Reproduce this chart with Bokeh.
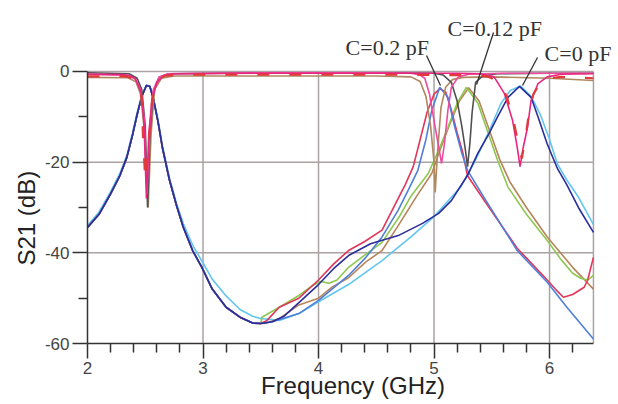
from bokeh.plotting import figure
from bokeh.models import FixedTicker, Label, Range1d, Title, CustomJSTickFormatter
from bokeh.embed import file_html
from bokeh.resources import INLINE

# ---------------- data ----------------
x_major = [2, 3, 4, 5, 6]
x_minor = [2.2, 2.4, 2.6, 2.8, 3.2, 3.4, 3.6, 3.8, 4.2, 4.4, 4.6, 4.8,
           5.2, 5.4, 5.6, 5.8, 6.2]
x_end = 6.38
y_major = [0, -20, -40, -60]
y_minor = [-10, -30, -50]

# first passband (common to all C values)
band1_f = [2.00, 2.10, 2.20, 2.28, 2.34, 2.39, 2.43, 2.47, 2.51, 2.54, 2.57, 2.61,
           2.65, 2.71, 2.77, 2.83, 2.91, 2.99, 3.08, 3.20, 3.32, 3.43, 3.50]
band1_db = [-34.4, -31.5, -27.0, -23.0, -19.0, -14.0, -9.5, -5.5, -3.1, -3.3, -6.0, -11.0,
            -17.0, -24.0, -29.5, -34.4, -39.5, -43.2, -48.0, -52.0, -54.2, -55.5, -55.6]
band1_light_db = [-34.0, -31.0, -26.5, -22.5, -18.5, -13.5, -9.0, -5.2, -3.0, -3.2, -5.8, -10.5,
                  -16.5, -23.5, -29.0, -33.6, -38.3, -41.8, -45.8, -49.5, -52.5, -54.0, -54.5]

# C = 0 pF (measured, navy)
navy_f = [3.60, 3.70, 3.83, 4.00, 4.13, 4.26, 4.45, 4.69, 4.90, 5.04, 5.15, 5.29,
          5.38, 5.47, 5.55, 5.64, 5.74, 5.84, 5.90, 5.98, 6.07, 6.15, 6.25, 6.38]
navy_db = [-55.2, -54.0, -51.0, -47.0, -43.5, -40.6, -38.0, -36.2, -33.5, -31.3, -28.5, -22.9,
           -18.0, -14.0, -10.0, -5.7, -3.3, -5.7, -10.0, -16.0, -21.5, -25.0, -30.0, -35.5]
# C = 0 pF (simulated, light blue)
light_f = [3.66, 3.83, 4.00, 4.26, 4.55, 4.80, 5.00, 5.23, 5.35, 5.48, 5.58, 5.66,
           5.75, 5.84, 5.92, 6.00, 6.07, 6.15, 6.25, 6.38]
light_db = [-54.9, -53.4, -50.8, -47.0, -41.7, -36.5, -32.0, -25.5, -20.0, -13.0, -7.0, -4.2,
            -3.2, -5.5, -9.5, -15.0, -20.5, -24.0, -27.7, -33.8]
# C = 0.2 pF (simulated, blue)
blue_f = [3.60, 3.83, 4.00, 4.26, 4.41, 4.55, 4.69, 4.78, 4.86, 4.93, 4.98, 5.05,
          5.12, 5.18, 5.24, 5.29, 5.45, 5.72, 5.98, 6.15, 6.38]
blue_db = [-55.2, -53.4, -50.5, -45.0, -41.0, -36.5, -30.6, -26.0, -21.8, -15.0, -8.6, -3.5,
           -5.7, -12.3, -18.0, -21.8, -28.5, -39.5, -46.5, -52.0, -59.0]
# C = 0.2 pF (measured, red)
red_f = [3.55, 3.66, 3.83, 4.00, 4.13, 4.26, 4.40, 4.55, 4.69, 4.75, 4.82, 4.88, 4.94,
         5.00, 5.05, 5.10, 5.15, 5.20, 5.25, 5.29, 5.45, 5.72, 5.85, 5.98, 6.05, 6.12,
         6.20, 6.30, 6.33, 6.38]
red_db = [-55.0, -52.0, -50.0, -46.0, -42.5, -39.5, -37.5, -35.0, -28.0, -25.0, -21.0, -15.0, -9.0,
          -5.0, -3.8, -4.5, -8.5, -13.5, -18.0, -23.0, -29.0, -39.0, -42.5, -46.0, -48.0, -49.8,
          -49.2, -47.6, -46.0, -41.0]
# C = 0.12 pF (measured, green)
green_f = [3.51, 3.66, 3.83, 3.95, 4.02, 4.09, 4.16, 4.26, 4.40, 4.55, 4.70, 4.80, 4.95,
           5.04, 5.12, 5.20, 5.28, 5.38, 5.47, 5.55, 5.64, 5.80, 5.98, 6.10, 6.20, 6.27,
           6.33, 6.38]
green_db = [-54.2, -52.0, -49.4, -47.2, -46.3, -46.7, -46.0, -43.2, -40.5, -37.7, -32.0, -27.5, -22.5,
            -17.4, -12.3, -7.0, -3.5, -7.0, -13.7, -19.6, -25.5, -31.5, -37.3, -41.5, -44.5, -45.6,
            -46.0, -45.0]
# C = 0.12 pF (simulated, brown)
brown_f = [3.55, 3.66, 3.83, 4.00, 4.12, 4.26, 4.41, 4.55, 4.69, 4.85, 4.98, 5.05,
           5.13, 5.22, 5.30, 5.39, 5.48, 5.57, 5.66, 5.80, 5.98, 6.20, 6.38]
brown_db = [-55.5, -54.5, -51.5, -50.0, -47.5, -45.5, -42.0, -39.5, -34.0, -27.5, -22.5, -17.5,
            -12.0, -6.5, -3.6, -6.5, -13.0, -19.5, -24.5, -30.0, -36.5, -43.2, -48.0]

# notch-type responses near 0 dB
mag0_f = [2.00, 2.30, 2.37, 2.41, 2.44, 2.47, 2.49, 2.51, 2.53, 2.555, 2.57, 2.60, 2.66,
          2.75, 3.50, 4.50, 5.20, 5.40, 5.52, 5.61, 5.68, 5.72, 5.745, 5.77, 5.81, 5.84,
          5.90, 5.98, 6.10, 6.38]
mag0_db = [-0.6, -0.7, -1.0, -1.5, -3.1, -5.3, -12.0, -28.0, -14.0, -7.0, -5.3, -2.4, -0.9,
           -0.5, -0.4, -0.4, -0.4, -0.5, -1.2, -4.9, -10.8, -16.7, -21.0, -17.0, -12.3, -6.4,
           -2.7, -1.2, -0.6, -0.5]
red0_f = [2.00, 2.33, 2.40, 2.44, 2.47, 2.48, 2.50, 2.53, 2.56, 2.60, 2.66, 2.80, 3.50,
          4.50, 5.20, 5.45, 5.55, 5.63, 5.69, 5.73, 5.76, 5.79, 5.82, 5.86, 5.92, 6.00,
          6.10, 6.38]
red0_db = [-1.1, -1.1, -1.6, -3.0, -6.0, -14.0, -24.0, -16.0, -6.0, -2.4, -1.0, -0.7, -0.7,
           -0.7, -0.8, -1.0, -2.0, -5.5, -11.0, -16.0, -19.2, -15.0, -9.5, -5.0, -2.5, -1.5,
           -1.2, -1.5]
pink02_f = [2.00, 2.35, 2.42, 2.46, 2.49, 2.515, 2.54, 2.57, 2.62, 2.70, 3.50, 4.50,
            4.80, 4.88, 4.92, 4.96, 5.01, 5.05, 5.065, 5.09, 5.12, 5.15, 5.21, 5.30,
            5.60, 6.38]
pink02_db = [-0.6, -0.8, -1.8, -4.0, -10.0, -27.0, -12.0, -4.0, -1.2, -0.5, -0.3, -0.3,
             -0.4, -0.8, -1.5, -4.9, -12.3, -18.0, -20.3, -16.0, -8.6, -3.5, -1.2, -0.6,
             -0.4, -0.4]
brown02_f = [2.00, 2.35, 2.42, 2.46, 2.50, 2.525, 2.55, 2.58, 2.64, 2.75, 3.50, 4.50,
             4.80, 4.88, 4.93, 4.97, 5.00, 5.01, 5.03, 5.06, 5.10, 5.16, 5.25, 5.50,
             6.00, 6.38]
brown02_db = [-1.3, -1.4, -2.3, -5.0, -15.0, -30.0, -14.0, -4.0, -1.5, -1.0, -1.0, -1.0,
              -1.2, -2.2, -5.5, -12.0, -20.0, -26.7, -18.0, -8.0, -3.5, -1.8, -1.3, -1.2,
              -1.5, -2.0]
gray012_f = [2.00, 2.36, 2.43, 2.47, 2.50, 2.52, 2.54, 2.57, 2.62, 2.70, 3.50, 4.50,
             5.00, 5.08, 5.15, 5.20, 5.24, 5.27, 5.29, 5.31, 5.33, 5.36, 5.42, 5.55,
             6.00, 6.38]
gray012_db = [-0.3, -0.5, -1.5, -4.0, -12.0, -30.0, -14.0, -4.5, -1.3, -0.5, -0.3, -0.3,
              -0.4, -0.8, -2.4, -6.5, -12.0, -17.0, -21.0, -16.0, -9.0, -2.4, -1.0, -0.5,
              -0.4, -0.4]

labels = ["C=0.2 pF", "C=0.12 pF", "C=0 pF"]

# ---------------- figure ----------------
p = figure(width=618, height=404, x_range=Range1d(2, 6.597), y_range=Range1d(-60, 15.65),
           output_backend="svg", toolbar_location=None,
           min_border_left=87, min_border_right=0, min_border_top=0, min_border_bottom=61)
p.background_fill_color = "white"
p.border_fill_color = "white"
p.outline_line_color = None
p.xgrid.visible = False
p.ygrid.visible = False

p.xaxis.ticker = FixedTicker(ticks=x_major, minor_ticks=x_minor)
p.yaxis.ticker = FixedTicker(ticks=y_major, minor_ticks=y_minor)
p.xaxis.bounds = (2, x_end)
p.yaxis.bounds = (-60, 0)
p.yaxis.formatter = CustomJSTickFormatter(code="return String(tick)")
for ax in (p.xaxis, p.yaxis):
    ax.axis_line_color = "#333333"
    ax.axis_line_width = 1.5
    ax.major_tick_line_color = "#333333"
    ax.major_tick_line_width = 1.5
    ax.minor_tick_line_color = "#333333"
    ax.minor_tick_line_width = 1.5
    ax.major_tick_in = 0
    ax.major_tick_out = 15
    ax.minor_tick_in = 0
    ax.minor_tick_out = 9
    ax.major_label_text_font = "Liberation Sans"
    ax.major_label_text_font_size = "17px"
    ax.major_label_text_color = "#444444"
p.xaxis.major_label_standoff = 3
p.yaxis.major_label_standoff = 3
p.xaxis.axis_label = "Frequency (GHz)"
p.xaxis.axis_label_text_font = "Liberation Sans"
p.xaxis.axis_label_text_font_size = "24px"
p.xaxis.axis_label_text_font_style = "normal"
p.xaxis.axis_label_text_color = "#222222"
p.xaxis.axis_label_standoff = -5

p.add_layout(Title(text="S21 (dB)", align="left", offset=78, standoff=4,
                   text_font="Liberation Sans", text_font_size="24px",
                   text_font_style="normal", text_color="#222222"), "left")

# grid lines and frame border (gray), drawn from the tick arrays
grid_x = x_major[1:] + [x_end]
grid_y = y_major[:-1]
p.segment(x0=grid_x, y0=[y_major[-1]] * len(grid_x), x1=grid_x, y1=[y_major[0]] * len(grid_x),
          line_color="#aba3a3", line_width=1.5)
p.segment(x0=[x_major[0]] * len(grid_y), y0=grid_y, x1=[x_end] * len(grid_y), y1=grid_y,
          line_color="#aba3a3", line_width=1.5)

W = 1.6
p.line(band1_f + light_f, band1_light_db + light_db, line_color="#62c6f0", line_width=W)
p.line(band1_f + brown_f, band1_db + brown_db, line_color="#b8845a", line_width=W)
p.line(band1_f + green_f, band1_db + green_db, line_color="#8cc850", line_width=W)
p.line(band1_f + red_f, band1_db + red_db, line_color="#e0365a", line_width=W)
p.line(band1_f + blue_f, band1_db + blue_db, line_color="#4f7fd8", line_width=W)
p.line(band1_f + navy_f, band1_db + navy_db, line_color="#2b2d9b", line_width=W)

p.line(brown02_f, brown02_db, line_color="#b08860", line_width=W)
p.line(gray012_f, gray012_db, line_color="#505050", line_width=W)
p.line(pink02_f, pink02_db, line_color="#f04aa0", line_width=W)
p.line(mag0_f, mag0_db, line_color="#e9257f", line_width=W)
p.line(red0_f, red0_db, line_color="#e03a3a", line_width=2.2, line_dash="12 20")

# annotations: leader lines and labels
p.segment(x0=[4.935, 5.515, 5.896], y0=[3.53, 8.59, 3.09],
          x1=[5.056, 5.368, 5.766], y1=[-3.09, -2.86, -3.09],
          line_color="#333333", line_width=1.3)
for txt, lx, ly in zip(labels, [4.234, 5.117, 5.957], [5.29, 9.48, 3.97]):
    p.add_layout(Label(x=lx, y=ly, text=txt, text_font="Liberation Serif",
                       text_font_size="22px", text_color="#333333",
                       text_baseline="alphabetic", text_align="left"))

open("out.html", "w").write(file_html(p, INLINE))
